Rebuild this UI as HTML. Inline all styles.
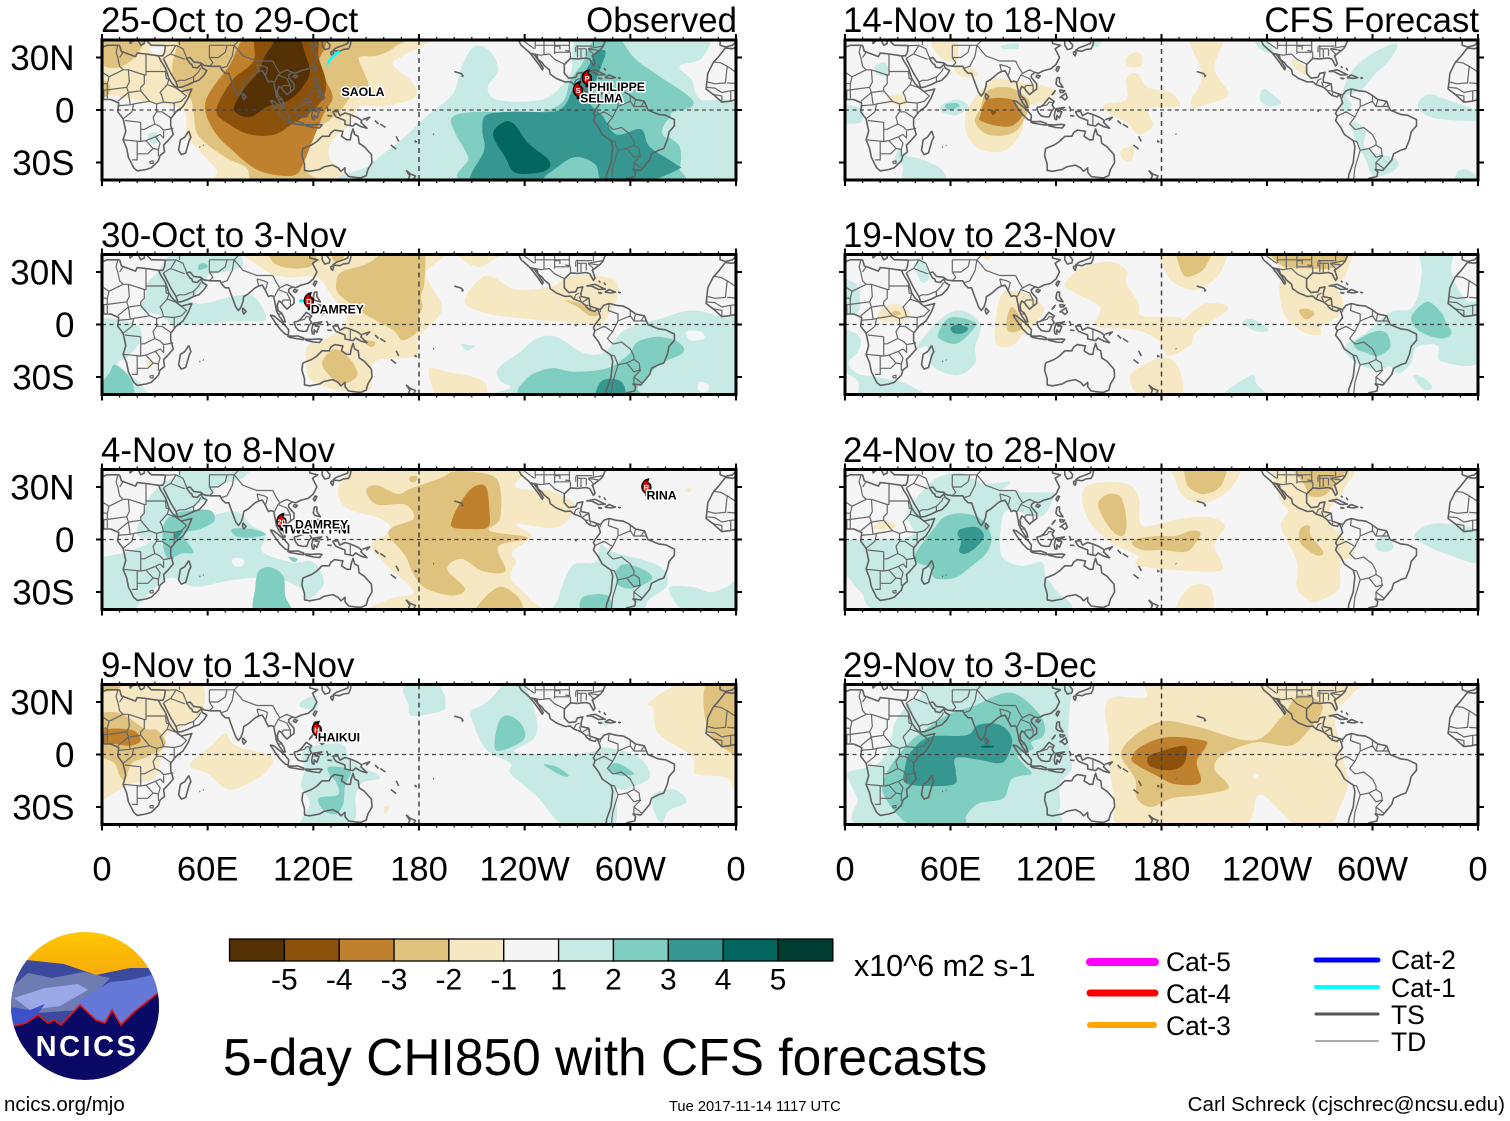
<!DOCTYPE html>
<html lang="en">
<head>
<meta charset="utf-8">
<title>5-day CHI850 with CFS forecasts</title>
<style>
html,body{margin:0;padding:0;background:#fff;}
svg{display:block;}
text{font-family:"Liberation Sans",Arial,sans-serif;fill:#000;}
</style>
</head>
<body>
<svg id="chart" xmlns="http://www.w3.org/2000/svg" width="1510" height="1121" viewBox="0 0 1510 1121">
<rect width="1510" height="1121" fill="#fff"/>
<defs id="defs"></defs>
<g id="panels"></g>

<g font-size="34.8">
<text x="101" y="32">25-Oct to 29-Oct</text>
<text x="101" y="247">30-Oct to 3-Nov</text>
<text x="101" y="462">4-Nov to 8-Nov</text>
<text x="101" y="677">9-Nov to 13-Nov</text>
<text x="843" y="32">14-Nov to 18-Nov</text>
<text x="843" y="247">19-Nov to 23-Nov</text>
<text x="843" y="462">24-Nov to 28-Nov</text>
<text x="843" y="677">29-Nov to 3-Dec</text>
<text x="737" y="32" text-anchor="end">Observed</text>
<text x="1479" y="32" text-anchor="end">CFS Forecast</text>
</g>

<g id="colorbar"></g>
<text x="854" y="976" font-size="30.4">x10^6 m2 s-1</text>
<text x="223" y="1075" font-size="51.5">5-day CHI850 with CFS forecasts</text>

<g font-size="26.5" stroke-linecap="round">
<line x1="1090" x2="1155" y1="962" y2="962" stroke="#ff00ff" stroke-width="8"/>
<line x1="1090" x2="1155" y1="993" y2="993" stroke="#ff0000" stroke-width="7"/>
<line x1="1090" x2="1154" y1="1025" y2="1025" stroke="#ffa500" stroke-width="6"/>
<line x1="1316" x2="1378" y1="960" y2="960" stroke="#0000ff" stroke-width="5"/>
<line x1="1316" x2="1378" y1="987" y2="987" stroke="#00ffff" stroke-width="4"/>
<line x1="1316" x2="1378" y1="1014" y2="1014" stroke="#555555" stroke-width="3"/>
<line x1="1316" x2="1378" y1="1041" y2="1041" stroke="#aaaaaa" stroke-width="2"/>
<text x="1166" y="971">Cat-5</text>
<text x="1166" y="1003">Cat-4</text>
<text x="1166" y="1035">Cat-3</text>
<text x="1391" y="969">Cat-2</text>
<text x="1391" y="997">Cat-1</text>
<text x="1391" y="1024">TS</text>
<text x="1391" y="1051">TD</text>
</g>

<g>
<clipPath id="logoClip"><ellipse cx="85" cy="1006" rx="74" ry="74"/></clipPath>
<g clip-path="url(#logoClip)">
<linearGradient id="sun" x1="0" y1="0" x2="0" y2="1"><stop offset="0" stop-color="#ffc800"/><stop offset="1" stop-color="#f4a010"/></linearGradient>
<rect x="10" y="930" width="150" height="60" fill="url(#sun)"/>
<path d="M5 968 L27 960 L64 964 L96 975 L130 968 L165 968 L165 1030 L5 1030Z" fill="#3c4a9e"/>
<path d="M8 990 L28 973 L52 978 L84 972 L110 978 L80 1010 L8 1015Z" fill="#6f7cb2"/>
<path d="M80 1000 L110 982 L130 980 L165 972 L165 1040 L60 1040Z" fill="#6478d8"/>
<path d="M14 998 L45 988 L78 984 L88 990 L60 1006 L30 1010Z" fill="#9aa8e8"/>
<path d="M5 1006 L30 1010 L45 1004 L25 1030 L5 1030Z" fill="#3c50c8"/>
<path d="M5 1028 L14 1026 L26 1023 L38 1015 L48 1023 L54 1020 L61 1025 L80 1005 L96 1020 L105 1023 L112 1010 L121 1025 L134 1012 L158 993 L165 990 L165 1085 L5 1085Z" fill="#0a0a66"/>
<path d="M5 1028 L14 1026 L26 1023 L38 1015 L48 1023 L54 1020 L61 1025 L80 1005 L96 1020 L105 1023 L112 1010 L121 1025 L134 1012 L158 993" fill="none" stroke="#ee1111" stroke-width="1.6"/>
</g>
<text x="87" y="1056" text-anchor="middle" font-size="29" font-weight="bold" letter-spacing="2.5" style="fill:#fff">NCICS</text>
</g>

<text x="4" y="1111" font-size="20.5">ncics.org/mjo</text>
<text x="669" y="1111" font-size="14.7">Tue 2017-11-14 1117 UTC</text>
<text x="1505" y="1111" font-size="20.6" text-anchor="end">Carl Schreck (cjschrec@ncsu.edu)</text>
</svg>

<script>
// ---- axis labels ----
const lonTicks = [0, 60, 120, 180, 240, 300, 360];
const lonTickLabels = ["0", "60E", "120E", "180", "120W", "60W", "0"];
const latTicks = [30, 0, -30];
const latTickLabels = ["30N", "0", "30S"];

// ---- colour scale ----
const levelValues = [-5, -4, -3, -2, -1, 0, 1, 2, 3, 4, 5];
const levelColors = ["#543005", "#8c510a", "#bf812d", "#dfc27d", "#f6e8c3", "#f5f5f5", "#c7eae5", "#80cdc1", "#35978f", "#01665e", "#003c30"];
const colorbarLabels = ["-5", "-4", "-3", "-2", "-1", "1", "2", "3", "4", "5"];

// ---- filled contours: [level, flat lon,lat list] ----
const obsOct25 = [
[-1,[-5,45,182,45,182,37,171,31,165,26,177,15,177,7,160,2,146,2,141,-8,131,-17,129,-27,137,-36,144,-42,70,-42,65,-34,55,-23,48,-14,46,0,24,5,3,9,-5,13]],
[0,[28,37,35,37,36,33,29,32]],
[-2,[-5,45,25,45,22,35,15,27,5,24,-5,30]],
[-2,[-5,18,4,15,3,8,-5,8]],
[-2,[44,45,168,45,166,36,156,31,146,30,149,21,151,13,141,7,134,-2,120,-13,114,-25,117,-36,125,-42,88,-42,82,-33,70,-27,55,-15,52,-2,50,7,41,17,40,26,43,38]],
[-3,[86,45,72,25,60,8,59,-2,65,-14,74,-23,86,-33,98,-37,110,-37,115,-29,119,-19,126,-2,131,7,127,17,123,27,127,37,126,45]],
[-4,[89,45,86,28,74,17,65,0,72,-8,84,-14,98,-14,108,-8,120,0,126,8,127,17,123,30,120,45]],
[-5,[98,45,110,45,116,30,118,21,113,12,105,5,94,2,84,-4,75,0,80,11,89,22,92,30,97,38]],
[1,[149,-42,153,-31,170,-17,184,-4,199,9,204,24,211,36,220,34,225,23,219,13,224,6,244,5,256,9,266,21,275,45,340,45,341,30,328,25,335,17,340,6,361,2,366,-42]],
[1,[26,-14,31,-13,32,-18,28,-19]],
[2,[210,-42,208,-27,201,-14,199,-4,215,-1,244,-2,261,4,266,17,273,27,278,38,290,45,302,30,314,21,333,8,335,2,323,-2,326,-8,321,-14,328,-21,328,-33,321,-42]],
[1,[318,-12,322,-5,328,-5,328,-12,321,-16]],
[3,[218,-3,232,-1,256,-1,263,3,268,13,275,23,281,33,286,33,282,21,277,5,284,-3,292,-14,306,-11,311,-21,326,-31,327,-34,306,-42,285,-42,280,-31,268,-27,254,-36,244,-42,210,-42,217,-23,216,-12]],
[4,[222,-14,228,-7,234,-8,242,-19,254,-29,251,-35,235,-36,229,-27]]
];
const obsOct30 = [
[-1,[86,45,91,32,105,27,122,27,130,17,139,3,128,-8,117,-12,116,-22,118,-31,128,-36,138,-38,152,-37,153,-25,158,-20,178,-18,180,-7,193,8,187,22,184,30,190,45]],
[-2,[96,45,96,37,102,33,112,32,120,34,122,40,124,45]],
[-2,[132,45,140,45,136,37,131,37]],
[-2,[133,24,136,30,151,35,165,45,182,45,183,24,181,16,182,10,180,5,180,-3,171,-9,165,-3,149,6,141,12,134,18]],
[-2,[125,-22,132,-14,141,-20,145,-29,137,-34,130,-30]],
[-2,[148,-9,155,-10,153,-13]],
[-1,[206,13,218,28,235,20,256,22,266,28,290,26,292,14,283,-1,278,0,244,3,220,6]],
[-1,[200,45,230,45,222,37,214,33,205,37]],
[-1,[186,-25,196,-27,216,-32,216,-42,192,-42,187,-34]],
[-2,[263,14,275,11,282,6,277,5,270,10]],
[-1,[25,-21,29,-22,27,-25]],
[1,[26,24,32,30,36,37,46,45,72,45,80,34,65,29,60,28,58,22,50,14,58,12,74,16,86,16,93,3,77,2,43,0,34,5,22,9,25,16]],
[2,[55,34,58,35,60,33,55,31]],
[1,[-5,0,19,0,22,-9,15,-18,9,-23,22,-34,24,-42,-5,-42]],
[2,[7,-23,14,-28,18,-36,16,-42,-5,-42,4,-28]],
[1,[225,-25,237,-16,247,-8,258,-7,273,-16,285,-16,297,-3,316,3,335,8,354,4,365,4,365,-42,229,-42,232,-36,226,-32]],
[0,[332,-4,340,-4,342,-8,334,-9]],
[0,[339,-33,344,-34,344,-38,339,-38]],
[1,[204,-11,209,-12,212,-12,207,-15]],
[2,[241,-42,241,-31,255,-25,268,-27,287,-25,299,-17,304,-10,316,-7,327,-10,330,-16,318,-22,311,-28,304,-36,302,-42]],
[3,[281,-42,283,-33,290,-31,296,-34,296,-42]]
];
const obsNov4 = [
[1,[25,20,32,30,43,37,50,45,84,45,81,36,67,31,60,24,50,16,62,14,76,16,85,8,93,3,91,-7,108,-13,120,-13,126,-25,117,-34,113,-28,98,-22,75,-23,53,-27,38,-22,22,-36,15,-42,-5,-42,-5,-14,15,-7,29,0,20,3]],
[0,[74,-11,80,-11,80,-15,75,-15]],
[2,[35,8,42,15,60,17,64,11,56,6,46,3,52,-7,45,-8,38,-11,35,-5]],
[2,[74,6,85,6,93,3,84,1,76,2]],
[3,[41,3,46,5,42,0]],
[2,[89,-18,96,-16,103,-21,104,-32,107,-42,87,-42,87,-28]],
[2,[106,-10,111,-11,109,-13]],
[-1,[116,45,141,45,134,29,139,18,158,12,164,5,153,-3,163,-16,177,-30,163,-34,156,-42,243,-42,243,-34,232,-22,235,-13,233,-7,244,2,235,9,259,7,268,20,254,28,235,30,232,45]],
[0,[181,30,198,28,198,20,184,19,179,24]],
[-2,[150,28,156,31,168,26,175,29,192,35,201,39,220,37,226,30,226,12,220,5,242,1,225,-4,229,-18,216,-18,204,-11,196,-17,206,-28,199,-32,184,-28,177,-20,172,-9,163,2,165,7,177,12,172,20,156,20]],
[-2,[175,36,179,36,178,33,175,33]],
[-2,[214,-37,226,-27,237,-34,237,-42,214,-42]],
[-3,[199,12,204,22,211,30,218,30,220,16,219,7,208,6,199,7]],
[1,[259,-34,267,-15,280,-13,283,-3,290,-7,316,-15,321,-26,311,-34,302,-42,259,-42]],
[2,[292,-18,297,-14,309,-18,312,-23,301,-28,293,-26,292,-22]],
[2,[273,-33,287,-32,288,-42,273,-42]],
[1,[322,-28,335,-27,347,-30,360,-22,361,-5,365,-42,333,-42]],
[-1,[331,29,335,29,333,27]]
];
const obsNov9 = [
[-1,[-5,45,50,45,58,27,46,16,36,10,33,-5,29,-14,16,-17,0,-26,-5,-26]],
[-2,[-5,45,5,45,10,38,-5,36]],
[-2,[-5,20,9,24,24,15,31,14,36,8,34,3,24,-2,17,-5,13,-14,10,-12,7,-5,0,-2,-5,-2]],
[-3,[0,14,17,14,22,8,16,5,7,6,-5,6]],
[-1,[310,29,321,37,340,45,365,45,365,-24,359,-20,354,-13,337,-11,335,-1,316,12,313,26]],
[-2,[342,37,347,45,365,45,365,1,354,3,345,12,342,24]],
[-1,[50,-6,62,5,70,12,76,5,96,-1,94,-9,86,-15,72,-20,60,-11]],
[-1,[160,-30,163,-30,161,-34]],
[1,[171,37,175,45,187,45,194,35,195,29,193,25,176,22,174,29]],
[1,[113,30,120,33,122,26,113,27]],
[1,[115,3,136,6,141,-3,158,-13,148,-16,144,-24,144,-36,137,-42,113,-42,118,-28,113,-18,115,-9]],
[2,[129,-7,141,-9,138,-18,137,-28,133,-34,126,-32,123,-25,134,-23,133,-16,129,-11]],
[1,[210,25,220,31,232,45,237,45,246,24,246,10,235,1,275,1,285,4,304,-1,311,-13,297,-20,292,-21,290,-42,264,-42,247,-24,232,-11,232,-5,218,3,210,20]],
[2,[226,20,232,22,239,16,239,8,225,2,223,8]],
[2,[251,-6,258,-7,265,-12,261,-12]],
[2,[288,-7,293,-5,302,-11,294,-12,289,-10]],
[1,[313,-23,325,-20,332,-27,322,-32,318,-39,314,-34]],
[1,[283,19,288,19,286,16]]
];
const cfsNov14 = [
[-1,[69,-1,77,11,86,18,100,16,119,12,114,5,102,1,101,-11,95,-20,88,-24,76,-22,69,-13]],
[-1,[62,24,71,24,76,20,67,19]],
[-1,[49,39,62,45,64,29,56,29]],
[-2,[77,1,81,11,93,13,102,8,105,3,100,-9,93,-14,81,-14,74,-7]],
[-3,[77,-3,81,6,95,6,98,1,101,-3,95,-9,86,-9,77,-6]],
[-4,[83,0,86,-1,84,-3]],
[-1,[25,7,31,9,35,3,26,4]],
[-1,[160,30,166,33,169,30,168,25,161,25]],
[-1,[147,3,160,6,160,18,166,21,172,13,185,10,190,2,173,1,175,-9,167,-14,160,-7,150,-2]],
[-1,[195,45,216,45,210,24,218,9,205,3,198,1,197,6,203,20]],
[-1,[157,-23,164,-21,163,-29,158,-28]],
[-1,[254,29,263,24,262,20,256,24]],
[1,[55,3,64,6,70,2,63,-3,55,-1]],
[2,[57,3,63,4,65,2,59,0]],
[1,[-5,4,2,3,10,0,9,-7,1,-8,-5,-8]],
[1,[17,25,23,27,25,20,19,20]],
[1,[89,37,98,38,98,35,90,35]],
[1,[31,-22,35,-26,43,-28,55,-34,56,-42,34,-42,33,-32,28,-30]],
[1,[138,45,148,45,144,36,140,38]],
[1,[230,45,236,45,244,33,236,35]],
[1,[283,10,288,22,301,33,314,38,310,29,301,20,294,12,284,8]],
[1,[284,8,288,3,285,-2,282,3]],
[1,[238,12,243,9,248,4,241,2,236,6]],
[1,[326,4,332,9,342,6,361,-1,361,-6,337,-5,328,-1]],
[1,[288,-7,296,-11,296,-22,313,-28,313,-34,301,-38,296,-28,290,-16]],
[1,[348,-36,353,-34,361,-40,348,-42]]
];
const cfsNov19 = [
[-1,[75,45,87,45,81,37]],
[-1,[86,5,90,18,102,18,113,10,110,3,102,-5,95,-12,86,-11]],
[-2,[92,3,95,10,100,3,100,-3,93,-4]],
[-1,[19,7,28,12,37,7,33,2,21,2]],
[-2,[27,7,29,8,32,6,27,5]],
[-1,[125,23,134,32,150,36,160,31,160,24,167,12,169,5,190,4,192,0,193,3,205,12,218,9,200,-4,196,-12,184,-18,178,-9,165,-3,143,-1,145,10,131,18]],
[-1,[162,-30,172,-22,184,-19,191,-28,190,-42,169,-42]],
[-1,[181,45,215,45,214,31,205,22,196,20,184,27]],
[-2,[189,45,208,45,205,33,198,28,192,29]],
[-1,[241,45,285,45,285,29,279,22,283,14,281,5,271,-1,270,-6,260,-4,250,5,247,20,248,31]],
[-2,[243,45,285,45,279,33,263,32,248,34]],
[-2,[258,8,263,9,267,6,262,3]],
[1,[41,-13,54,3,66,8,77,0,74,-13,74,-22,64,-29,50,-24,47,-13]],
[2,[53,-5,60,4,74,1,70,-6,63,-11,55,-9]],
[3,[60,-2,64,0,70,-2,67,-5,62,-5]],
[1,[-5,25,3,25,8,20,8,8,2,5,-5,5]],
[1,[-5,-3,6,-5,9,-10,7,-16,2,-22,7,-28,18,-30,35,-34,45,-42,11,-42,7,-32,-5,-22]],
[1,[41,37,44,37,48,27,44,24,41,29]],
[1,[226,1,232,3,241,-3,234,-4]],
[1,[284,-13,296,-5,310,7,323,10,328,29,327,45,345,45,345,29,353,14,361,10,361,-21,339,-21,337,-12,325,-13,322,-22,315,-28,310,-24,303,-26,291,-22]],
[2,[290,-10,301,-4,308,-5,310,-13,303,-18,296,-16,291,-14]],
[2,[322,4,331,13,339,7,342,1,345,-5,339,-8,327,-4]],
[1,[323,-29,330,-31,334,-36,329,-37]],
[1,[215,-42,221,-35,232,-29,234,-34,240,-42]]
];
const cfsNov24 = [
[1,[-5,-2,18,0,31,0,39,4,35,14,41,24,52,35,66,38,78,32,94,33,90,28,107,27,117,27,119,25,113,14,105,14,93,17,89,10,89,-9,100,-15,112,-13,114,-21,119,-28,123,-42,26,-42,9,-30,2,-22,-5,-17]],
[2,[40,-8,52,8,57,13,66,15,77,12,83,3,81,-7,71,-16,62,-22,51,-22,48,-16,41,-13]],
[3,[64,3,66,6,75,7,79,2,75,-4,69,-8,65,-7,66,-1]],
[1,[302,-2,307,2,312,-4,308,-7,303,-6]],
[1,[324,3,334,9,349,8,361,4,361,-13,344,-9,330,-3]],
[-1,[16,7,23,11,29,8,26,6,19,6]],
[-1,[135,26,141,32,160,32,167,24,169,8,186,11,205,13,216,8,210,-3,215,-15,212,-18,196,-18,167,-15,166,-9,150,-1,138,12]],
[-2,[144,21,150,26,157,24,160,12,159,3,154,3,147,12]],
[-2,[163,-2,169,1,179,2,188,2,197,5,202,4,200,-1,194,-7,181,-6,169,-6]],
[-1,[187,45,223,45,220,30,205,21,193,24,188,34]],
[-2,[195,45,216,45,214,31,205,26,198,28,194,33]],
[-1,[190,-35,198,-26,208,-28,208,-42,190,-42]],
[-1,[246,45,289,45,284,29,275,16,277,8,282,3,289,-9,282,-13,281,-28,272,-34,265,-35,257,-28,257,-13,248,7,252,16,247,24]],
[-2,[255,45,286,45,279,32,272,25,264,25,262,30]],
[-2,[259,6,264,8,265,2,272,-7,268,-9,259,-2]]
];
const cfsNov29 = [
[1,[2,-10,19,-5,26,7,28,17,35,28,43,34,47,45,119,45,129,38,128,29,127,7,129,-8,122,-17,122,-31,113,-42,13,-42,7,-25,2,-14]],
[2,[23,-12,34,4,44,13,59,23,74,28,90,35,100,33,112,21,113,11,106,7,107,3,98,0,102,-6,106,-11,95,-14,90,-25,76,-28,69,-35,67,-42,40,-42,23,-25]],
[3,[34,-8,37,1,48,10,69,11,76,17,88,17,95,9,92,-2,87,-5,76,-3,63,-2,63,-10,62,-17,45,-18,34,-16]],
[4,[78,5,84,5,84,4,78,4]],
[-1,[148,26,153,33,171,33,181,45,291,45,289,35,279,23,282,3,286,-16,281,-31,275,-42,258,-42,236,-23,224,-42,160,-42,153,-25,150,2,150,9]],
[0,[232,-11,235,-12,233,-14]],
[-2,[157,0,165,11,181,19,200,16,232,8,248,21,258,34,270,30,271,24,263,13,253,5,234,7,215,0,210,-8,217,-16,217,-20,203,-23,186,-25,174,-30,166,-25,165,-14]],
[-3,[163,-2,169,5,184,10,204,8,205,4,200,-4,202,-16,188,-17,177,-12,166,-6]],
[-4,[172,-2,177,1,193,5,194,-2,191,-7,184,-9,174,-7]]
];

// ---- tropical cyclones: [panel, lon, lat, letter, name] ----
const stormMarkers = [
[0,275.4,18.3,"P","PHILIPPE"],
[0,270.3,11.5,"S","SELMA"],
[1,117.5,13.5,"D","DAMREY"],
[2,102,10.3,"20","DAMREY"],
[2,309.2,30,"R","RINA"],
[3,122,14.3,"H","HAIKUI"]
];
const stormLabels = [
[0,136,8,"SAOLA"],
[0,276.5,11,"PHILIPPE"],
[0,271.5,4.2,"SELMA"],
[1,118.5,6.3,"DAMREY"],
[2,102.5,3.4,"TWENTY-NI"],
[2,109.6,6.3,"DAMREY"],
[2,309.2,23,"RINA"],
[3,122.5,7.3,"HAIKUI"]
];
const saolaTrack = [128,26,129.5,29,132,31.5,135,33.5];
const damreyTrack = [112,13.5,116,13.5];

// ---- geography (lon,lat; west negative) ----
const coastlines = [
[10,37,11,33.5,15,32,19,30.5,20,32.5,25,32,32,31,33.5,28,36,24,37,21,38,18,40,15,43,12,45,10.5,51,12,49,7,46,2,42,-1,39,-5,39,-9,40.5,-14,37,-18,35,-20,35.5,-24,33,-26,32,-29,28,-33,25,-34,20,-34.8,18,-33,15,-27,14,-22,12,-17,13.5,-12,12,-5,9,-1,9.5,4,5,6,1,6,-4,5,-8,4.5,-13,9,-17,12,-16.5,16,-16,21,-13,27,-9.5,31,-6,35.5,-2,35,3,37,10,37],
[-9,41,-9,37,-6,36,-2,37,0,39,3,42],
[12,42,15.6,40,16,38,17,39,18,40],
[20,41,22,37,24,38,24,41],
[26,41,26,39,28,37,31,37,36,36.8,35.5,33,34.5,31,32.5,31],
[34.8,29.5,37,25,39,21,42,16,43,13,45,13,49,14.5,52,16,55,17,58,20,59.5,22.5,57,24,56.3,26,54,24,51.5,24.5,51,26,50,26.5,48,29.5,50,30,52,27.5,56,27,58,25.5,61.5,25,67,25,68,23,70,21,72,21,73,18,74.5,14,76,10,77.5,8,79,10,80,13,80.5,16,83,17.5,87,21,89,22,91,22.5,92.5,20,94.5,16,96,16.5,97.5,16,98.5,11,99,8,100.5,5,103,1.5,104,1.5,103.3,4,102,6.5,100,8,99.5,11,100.5,13.5,102,12.5,103,11,105,8.8,107,10.5,109,12,109,15,106,18.5,106,20,108,21.5,110,21,113,22.5,117,23.5,120,26,122,30,121,32,119.5,35,122.5,37,118,38,118,39.5,122,40.5,125,39.5,125,37,126.5,34.5,129,35.2,129.5,37,127.5,39.5,128.5,41],
[131,34,135,33.6,137,34.6,140,35,141,37,141.5,40,140,41,139.5,38,137,37,133,35.5,131,34],
[130,33.5,131.5,33,131,31,130,32,130,33.5],
[121,25,122,24.5,120.8,22,120,23,121,25],
[109,20,111,19.5,110,18.3,108.7,19,109,20],
[80,9.5,81.8,7.5,80.5,6,79.8,7.5,80,9.5],
[120.5,18.5,122,18.5,122,16,124,13,121,13.7,120,15,120.5,18.5],
[122,7,125.5,9.5,126.5,7,125,5.7,123,7.5,122,7],
[122,11.5,125,11,124,10,122.5,10,122,11.5],
[117.5,8.5,119.5,11,119,10,117.5,8.5],
[95.5,5.5,97.5,5,100.5,2.5,103.5,0,106,-3,105.8,-6,104,-5.5,101,-2.5,98.5,1,95.5,5.5],
[105.3,-6.5,108.5,-6.7,111,-6.5,114.5,-7.7,114.3,-8.7,110,-8,106.5,-7.4,105.3,-6.5],
[115,-8.3,119,-8.5,123,-8.2,125,-8.5,123.5,-10.3,120,-10,116,-9,115,-8.3],
[109,1.5,111,1.7,113,3.2,116,7,119,5,117.8,3,119,1,117.5,-0.5,116.3,-3.8,114.5,-4,111.5,-3.3,110,-1.5,109,1.5],
[119.5,-5.5,119,-3,120,0.7,124.8,1.5,121,-0.8,123.3,-1,122,-4.5,120.5,-3,120.4,-5.5,119.5,-5.5],
[131,-0.8,134,-0.8,135,-3.2,138,-1.7,141,-2.6,145,-4.3,147.5,-6,147,-7,150.5,-10.4,147,-9.5,144,-7.7,142.5,-9.2,138,-8.3,138,-6,133,-4,132,-2.8,131,-0.8],
[127.5,2,128.5,0,127.8,-0.8],
[128,-3.2,130.5,-3.5],
[148,-5.5,152,-4.2,150,-6.2],
[155,-6,157,-8],
[158,-8,161,-10],
[167,-15,168,-17,168.5,-18],
[164,-20,167,-22.3],
[177.5,-17.5,178.5,-18.2,177.5,-18.2],
[-172,-13.7,-171.5,-14],
[172.7,-34.5,175,-36.5,178,-37.7,177,-39.5,175.5,-41,174,-39.5,174.8,-37.5,172.7,-34.5],
[-160,22,-157.8,21.3,-156,20.8,-155,19.5,-155.8,19],
[114,-22,113.5,-26,115,-31,115,-34.5,118,-35,123.5,-34,126,-32.5,131,-31.5,134,-33,135.7,-35,138,-33,138,-35.5,140,-38,144,-38.5,147,-38.8,150,-37.5,151,-34,153.3,-30,153,-25.5,149,-21,146,-19,145.5,-15,143.5,-14,142.5,-10.8,141.5,-14,141,-17,139,-17,136,-15,136.8,-12.2,132,-11.5,130,-13,129,-15,125,-15,122,-18,119,-20,114,-22],
[49.3,-12,50.5,-15.5,49.5,-17.5,47.5,-24.5,45,-25.5,43.5,-23,44.5,-17,47,-15.5,49.3,-12],
[55.3,-21,55.8,-21.2],
[57.3,-20.2,57.7,-20.4],
[-124,41,-122,37,-118.5,34,-117,32.5,-114.8,31.7,-113,31.3,-112.5,29,-110,27,-109,25.5,-106,23,-105.5,20.5,-102,18,-97,16,-94,16.2,-92,14.5,-88,13,-85.5,11,-85,10,-83,8.3,-80,7.5,-79,9,-78,7.5,-77,4,-78.5,2,-80,0,-81,-2,-80,-3.5,-81,-6,-78,-10,-76,-14,-71,-17.5,-70,-21,-71,-30,-73.5,-37,-74,-42],
[-65,-42,-62,-39,-57.5,-38,-57,-35.5,-58.5,-34,-54,-34.5,-49,-28.5,-48,-25,-44,-23,-41,-22,-39,-17,-38,-12.5,-35,-9,-35,-5.5,-40,-3,-44,-2.5,-50,0,-52,5,-57,6,-61,9,-64,10.5,-68,11,-72,12,-75,11,-77,8.5,-80,9.5,-83,10.5,-83.5,15,-88,16,-88,18,-87,21.5,-90,21,-91,18.7,-95,18.2,-97.5,21,-97.5,26,-94,29.5,-90,29.2,-85,29.7,-83,29,-81,25.2,-80,26.5,-81.5,31,-77,34.5,-75.7,36,-74,40,-71,41.5],
[-117,32.5,-115,30,-112,26,-110,23,-109.5,24,-112,28,-114.5,31.5],
[-85,22,-80,23,-75,20.5,-74.2,20.2,-78,20,-82,22,-85,22],
[-74.5,18.5,-72,20,-68.5,18.5,-71,18,-74.5,18.5],
[-78.3,18.3,-76.3,18,-77,17.8,-78.3,18.3],
[-67,18.4,-65.7,18.3,-66.5,18],
[-78,25,-77,24],
[-75,24,-74,22.5],
[-91.5,-0.3,-90.5,-0.8]
];
const countryBorders = [
[9,37,8,33,9,30,10,25,12,23],[12,33,10,30],
[25,32,25,20,24,20,24,15,22,13,22,11,27,5,31,3.5,35,4.5,41,4,41,-2],
[25,22,37,22],[12,23,15,23,24,20],[12,23,4,19,3,15,3,11.5],[4,19,-5,25,-8.7,27,-13,27.5],
[-5,25,-6,15.5,-12,15,-16,16],[3,15,-5,15.5],[3,11.5,-3,11,-3,5],[1,6,1,11],[3,11.5,3,6.5],
[3,11.5,14,13,15,10,9,5],[14,13,15.5,16,15,23],[15,10,22,11],[15,10,16,3,18,3.5,27,5],
[16,3,10,2.5,9.5,2],[18,3.5,17,-1,12,-5],[13,-6,22,-7,22,-11,24,-11,30,-8,29,-4,31,-1,34,-1,39,-4.5],
[31,-1,31,3.5],[30,-8,33,-9.5,35,-11.5,40.5,-10.5],[12,-17,22,-18,25,-17.5,30,-15.5,33,-14,35,-16,35,-12],
[22,-11,22,-18],[20,-18,20,-28.5,17,-28.5],[25,-17.5,29,-22,32,-22.5,33,-19,30.5,-15.5],
[20,-22,20,-25,26,-25,29,-22],[32,-22.5,32,-26.5],[27,-29.5,29,-29,29,-30.5,27.5,-30.5,27,-29.5],
[36,22,36.5,18,38,17.5,37,14.5,33,10,34,8,35,4.5],[37,14.5,42.5,12.5],[42.5,12.5,48,8,45,5,41,4],
[-13,9,-8,8,-8,4.5],[-17,13,-12,12.5,-8,10,-3,11],
[36,36.8,42,37,46,35,48,30],[39,32,42,37],[35,29.5,37,31,39,32,47,29],[42,16,44,17,47,17,52,19,55,22,56,24],[52,16,52,19],
[61,25,63,27,61,30,61,35,61,37],[61,30,66,30,70,33,71,37,75,37],[68,24,71,25,74,31,75,37],
[75,37,80,31,88,28,92,28,97,28],[88,26,92,25,94,24,93,20],[97,28,99,24,101,21,100,20,98,16],
[101,21,105,23,108,21.5],[100,20,105,18,107,14,107,10.5],[102,12.5,103,14,107,14],[100,6,102,6],[88,26,89,22],
[61,37,66,37,71,37],[44,37,44,41],[75,37,80,42],[109.5,1.5,115,3,116,4.5,118,4.3],[141,-2.6,141,-9],
[-117,32.5,-111,31.3,-106,32,-103,29,-97,26],[-124,40,-75,40],[-114,37,-94.6,37],
[-114,35,-114,42],[-109,31.3,-109,41],[-103,32,-103,41],[-94.6,33,-94.6,40],[-90,30,-90,37],[-85,31,-85,35],
[-120,42,-120,39,-114.5,35],[-100,34.5,-100,37],[-103,36.5,-100,36.5],[-97,34,-94,33.5],[-91,36.5,-81.7,36.5],
[-84,35,-75.7,36.5],[-88,30,-88,35],[-82,30.5,-81,32,-84,35],[-103,33,-94.5,33],[-94,29.5,-94,33],[-91,33,-91,36],[-85,35,-90,35],[-81,36,-81,40],[-78,34,-84,35],
[-92,14.5,-91,17,-89,18],[-89,16,-88,13.5],[-83.5,15,-87,13],[-85.7,11,-83.7,11],[-83,8.3,-82.6,9.6],
[-77,8,-77,7],[-72,12,-72.5,8,-67,6,-67,2,-70,-4],[-80,-3.5,-75,-1,-70,-4],[-70,-4,-73,-8,-70,-11,-69,-11],
[-69,-11,-65,-10,-60,-14,-58,-18,-58,-20,-62,-22,-67,-23,-69,-18,-71,-17.5],[-67,-23,-70,-33,-71,-42],
[-62,-22,-58,-27,-54.5,-26,-55,-22,-58,-20],[-58,-34,-58,-30,-53.5,-33.5],[-58,-30,-54,-26],
[-60,8,-60,5,-58,2,-57,6],[-54,2,-52,5],[-58,2,-51,2],[-67,2,-60,5]
];

// ---- panels ----
const panelContours = [obsOct25, obsOct30, obsNov4, obsNov9, cfsNov14, cfsNov19, cfsNov24, cfsNov29];

const NS = "http://www.w3.org/2000/svg";
const svg = document.getElementById("chart");
const panelsG = document.getElementById("panels");
const defs = document.getElementById("defs");
const PANEL_H = 140;
const LAT_MAX = 40;
const colLeft = [102, 845];
const colRight = [736, 1478];
const rowTop = [40, 254.5, 469.5, 684.5];

function el(tag, attrs, parent) {
  const e = document.createElementNS(NS, tag);
  for (const k in attrs) e.setAttribute(k, attrs[k]);
  if (parent) parent.appendChild(e);
  return e;
}
function panelGeom(i) {
  const col = i < 4 ? 0 : 1;
  const row = i % 4;
  return {x0: colLeft[col], x1: colRight[col], y0: rowTop[row], y1: rowTop[row] + PANEL_H, col, row};
}
function xScale(g, lon) { return g.x0 + lon * (g.x1 - g.x0) / 360; }
function yScale(g, lat) { return g.y0 + (LAT_MAX - lat) * PANEL_H / (2 * LAT_MAX); }
function levelColor(level) { return levelColors[levelValues.indexOf(level)]; }

function smoothClosed(pts) {
  const n = pts.length;
  let d = "M" + pts[0][0].toFixed(1) + " " + pts[0][1].toFixed(1);
  for (let i = 0; i < n; i++) {
    const p0 = pts[(i - 1 + n) % n], p1 = pts[i], p2 = pts[(i + 1) % n], p3 = pts[(i + 2) % n];
    const c1x = p1[0] + (p2[0] - p0[0]) / 6, c1y = p1[1] + (p2[1] - p0[1]) / 6;
    const c2x = p2[0] - (p3[0] - p1[0]) / 6, c2y = p2[1] - (p3[1] - p1[1]) / 6;
    d += "C" + c1x.toFixed(1) + " " + c1y.toFixed(1) + " " + c2x.toFixed(1) + " " + c2y.toFixed(1) + " " + p2[0].toFixed(1) + " " + p2[1].toFixed(1);
  }
  return d + "Z";
}
function polylineD(g, flat, offset) {
  let d = "";
  for (let i = 0; i < flat.length; i += 2) {
    d += (i ? "L" : "M") + xScale(g, flat[i] + offset).toFixed(1) + " " + yScale(g, flat[i + 1]).toFixed(1);
  }
  return d;
}
function geoPath(g, lines) {
  let d = "";
  for (const line of lines) {
    d += polylineD(g, line, 0);
    d += polylineD(g, line, 360);
  }
  return d;
}

panelContours.forEach(function (contours, i) {
  const g = panelGeom(i);
  const group = el("g", {}, panelsG);
  
  

  const clipId = "panelClip" + i;
  const cp = el("clipPath", {id: clipId}, defs);
  el("rect", {x: g.x0, y: g.y0, width: g.x1 - g.x0, height: PANEL_H}, cp);

  const clipped = el("g", {"clip-path": "url(#" + clipId + ")"}, group);
  const bg = el("rect", {x: g.x0, y: g.y0, width: g.x1 - g.x0, height: PANEL_H, fill: levelColor(0)}, clipped);
  
  

  contours.forEach(function (c) {
    const pts = [];
    for (let k = 0; k < c[1].length; k += 2) pts.push([xScale(g, c[1][k]), yScale(g, c[1][k + 1])]);
    const p = el("path", {d: smoothClosed(pts), fill: levelColor(c[0])}, clipped);
    
    
  });

  const borders = el("path", {d: geoPath(g, countryBorders), fill: "none", stroke: "#666", "stroke-width": 1.2, "stroke-linejoin": "round"}, clipped);
  
  
  const coast = el("path", {d: geoPath(g, coastlines), fill: "none", stroke: "#606060", "stroke-width": 1.6, "stroke-linejoin": "round"}, clipped);
  
  

  const eq = el("line", {x1: g.x0, x2: g.x1, y1: yScale(g, 0), y2: yScale(g, 0), stroke: "#444", "stroke-width": 1.3, "stroke-dasharray": "4 3.5"}, clipped);
  
  
  const dl = el("line", {x1: xScale(g, 180), x2: xScale(g, 180), y1: g.y0, y2: g.y1, stroke: "#444", "stroke-width": 1.5, "stroke-dasharray": "5 4"}, clipped);
  
  

  // storms
  if (i === 0) {
    const t = el("path", {d: polylineD(g, saolaTrack, 0), fill: "none", stroke: "#00ffff", "stroke-width": 2.5}, clipped);
    
    
  }
  if (i === 1) {
    const t = el("path", {d: polylineD(g, damreyTrack, 0), fill: "none", stroke: "#00ffff", "stroke-width": 3}, clipped);
    
    
  }
  stormMarkers.filter(function (s) { return s[0] === i; }).forEach(function (s) {
    const x = xScale(g, s[1]), y = yScale(g, s[2]);
    const m = el("g", {transform: "translate(" + x.toFixed(1) + " " + y.toFixed(1) + ")"}, clipped);
    
    
    el("path", {d: "M2 -8 C-3 -7 -5 -3 -4.5 1 C-4 4 -2 6 0 6.5 C4 6 5 1 4 -2 C3 -4 1 -4 1 -5Z", fill: "#e00000", stroke: "#000", "stroke-width": 1.4}, m);
    el("circle", {cx: 0, cy: 8, r: 1.4, fill: "#000"}, m);
    const letter = el("text", {x: 0, y: 3, "text-anchor": "middle", "font-size": 7.5, "font-weight": "bold", style: "fill:#fff"}, m);
    letter.textContent = s[3];
  });
  stormLabels.filter(function (s) { return s[0] === i; }).forEach(function (s) {
    const t = el("text", {x: xScale(g, s[1]), y: yScale(g, s[2]), "font-size": 12.3, "font-weight": "bold", stroke: "#fff", "stroke-width": 3, "stroke-linejoin": "round", "paint-order": "stroke"}, clipped);
    
    
    t.textContent = s[3];
  });

  // frame and ticks
  const frame = el("rect", {x: g.x0, y: g.y0, width: g.x1 - g.x0, height: PANEL_H, fill: "none", stroke: "#000", "stroke-width": 3}, group);
  
  

  for (let lon = 0; lon <= 360; lon += 10) {
    const major = lon % 60 === 0;
    const len = major ? 6 : 3;
    const x = xScale(g, lon);
    const tickB = el("line", {x1: x, x2: x, y1: g.y1, y2: g.y1 + len, stroke: "#000", "stroke-width": major ? 2 : 1.2}, group);
    
    
    const tickT = el("line", {x1: x, x2: x, y1: g.y0, y2: g.y0 - len, stroke: "#000", "stroke-width": major ? 2 : 1.2}, group);
    
    
  }
  latTicks.forEach(function (lat, k) {
    const y = yScale(g, lat);
    const tl = el("line", {x1: g.x0 - 6, x2: g.x0, y1: y, y2: y, stroke: "#000", "stroke-width": 2}, group);
    
    
    const tr = el("line", {x1: g.x1, x2: g.x1 + 6, y1: y, y2: y, stroke: "#000", "stroke-width": 2}, group);
    
    
    if (g.col === 0) {
      const lab = el("text", {x: 74.5, y: y + 12.5, "text-anchor": "end", "font-size": 35}, group);
      
      
      lab.textContent = latTickLabels[k];
    }
  });
  if (g.row === 3) {
    lonTicks.forEach(function (lon, k) {
      const lab = el("text", {x: xScale(g, lon), y: 880.5, "text-anchor": "middle", "font-size": 34.6}, group);
      
      
      lab.textContent = lonTickLabels[k];
    });
  }
});

// ---- colorbar ----
const cbG = document.getElementById("colorbar");
const CB_X = 229.5, CB_W = 54.85, CB_Y = 939, CB_H = 22;
levelColors.forEach(function (c, i) {
  const r = el("rect", {x: CB_X + i * CB_W, y: CB_Y, width: CB_W, height: CB_H, fill: c, stroke: "#000", "stroke-width": 1.3}, cbG);
  
  
});
colorbarLabels.forEach(function (t, i) {
  const lab = el("text", {x: CB_X + (i + 1) * CB_W, y: 989.5, "text-anchor": "middle", "font-size": 30}, cbG);
  
  
  lab.textContent = t;
});
</script>
</body>
</html>
